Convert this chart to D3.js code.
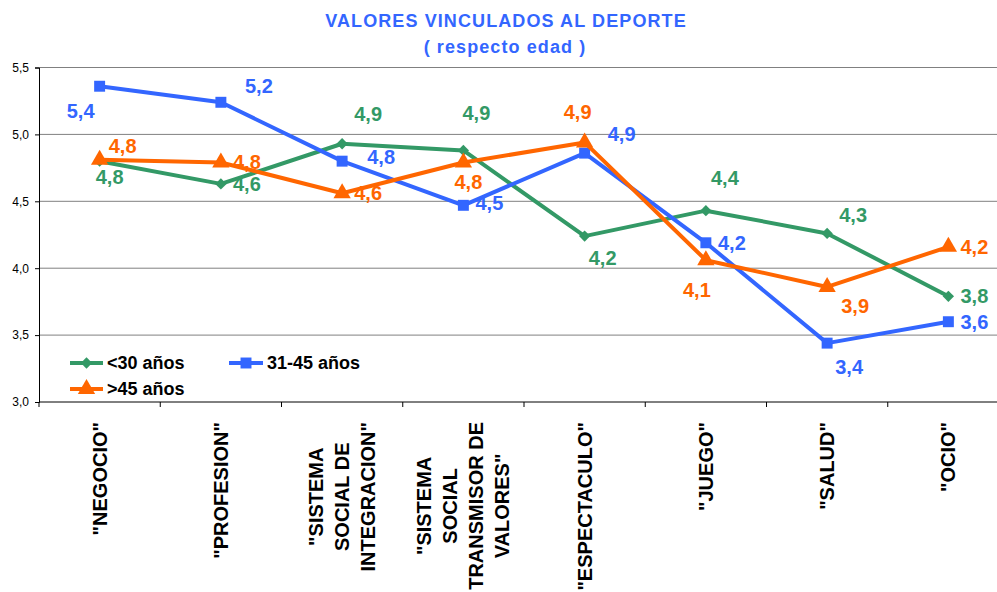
<!DOCTYPE html>
<html>
<head>
<meta charset="utf-8">
<script src="https://cdn.jsdelivr.net/npm/d3@7"></script>
<style>
  html, body { margin: 0; padding: 0; background: #fff; }
  svg { display: block; overflow: hidden; font-family: Arial, "Liberation Sans", sans-serif; }
</style>
</head>
<body>
<svg id="chart" width="997" height="592"></svg>
<script>
// Line chart: "valores vinculados al deporte" by age group.
// Values, one decimal label per point.

const categories = [
    '"NEGOCIO"',
    '"PROFESION"',
    '"SISTEMA\nSOCIAL DE\nINTEGRACION"',
    '"SISTEMA\nSOCIAL\nTRANSMISOR DE\nVALORES"',
    '"ESPECTACULO"',
    '"JUEGO"',
    '"SALUD"',
    '"OCIO"',
];
const seriesNames = ['<30 años', '31-45 años', '>45 años'];
const under30 = [4.80, 4.63, 4.93, 4.88, 4.24, 4.43, 4.26, 3.79];
const from31to45 = [5.36, 5.24, 4.80, 4.47, 4.86, 4.19, 3.44, 3.60];
const over45 = [4.81, 4.79, 4.56, 4.79, 4.94, 4.06, 3.86, 4.16];
const yTicks = [3.0, 3.5, 4.0, 4.5, 5.0, 5.5];

// label nudges (px) so the value labels sit where the original put them
const LABEL_NUDGE = [
    [[10, 16], [26, 0], [26, -30], [13, -37], [18, 22], [19, -33], [26, -18], [26, 0]],
    [[-19, 25], [38, -16], [39, -4], [26, -2], [37, -19], [26, 0], [22, 24], [26, 0]],
    [[23, -14], [26, 0], [26, 0], [5, 20], [-7, -30], [-9, 30], [28, 19], [26, 0]],
];

const COLORS = ['#339966', '#3366ff', '#ff6600'];
// diamond is a square turned 45 degrees, like the spreadsheet marker
const SYMBOLS = [d3.symbolSquare, d3.symbolSquare, d3.symbolTriangle];
const SYMBOL_SIZE = [64, 120, 130];
const SYMBOL_ROT = [45, 0, 0];

const es = d3.formatLocale({ decimal: ',', thousands: '.', grouping: [3], currency: ['', '€'] });
const fmt = es.format('.1f');

const series = [under30, from31to45, over45].map((values, i) => ({
    name: seriesNames[i], values, color: COLORS[i], symbol: SYMBOLS[i],
    size: SYMBOL_SIZE[i], rot: SYMBOL_ROT[i], nudge: LABEL_NUDGE[i],
}));

const svg = d3.select('#chart');
const margin = { left: 39, top: 67.5, bottom: 402 };
// the plot runs a little past the right edge of the picture, as in the original
const plotRight = 1009;

const x = d3.scaleBand().domain(categories).range([margin.left, plotRight]).padding(0);
const y = d3.scaleLinear().domain([3, 5.5]).range([margin.bottom, margin.top]);
const cx = (i) => x(categories[i]) + x.bandwidth() / 2;

// title
const titleStyle = (sel) => sel
    .attr('text-anchor', 'middle')
    .attr('fill', '#3366ff')
    .style('font-size', '18px')
    .style('font-weight', 'bold')
    .style('letter-spacing', '1.1px');
svg.append('text').attr('x', 506).attr('y', 27).call(titleStyle)
    .text('VALORES VINCULADOS AL DEPORTE');
svg.append('text').attr('x', 505).attr('y', 53).call(titleStyle)
    .text('( respecto edad )');

// gridlines
svg.append('g')
    .selectAll('line')
    .data(yTicks.filter((t) => t > 3))
    .join('line')
    .attr('x1', margin.left).attr('x2', plotRight)
    .attr('y1', (d) => y(d)).attr('y2', (d) => y(d))
    .attr('stroke', '#808080')
    .attr('stroke-width', 1);

// y axis
const gy = svg.append('g')
    .attr('transform', `translate(${margin.left},0)`)
    .call(d3.axisLeft(y).tickValues(yTicks).tickFormat(fmt).tickSize(4).tickPadding(6));
gy.select('.domain').attr('stroke', '#000');
gy.selectAll('text').style('font-size', '12px').attr('fill', '#000');

// x axis: ticks at band boundaries
const gx = svg.append('g');
gx.append('line')
    .attr('x1', margin.left).attr('x2', plotRight)
    .attr('y1', margin.bottom).attr('y2', margin.bottom)
    .attr('stroke', '#000');
gx.selectAll('line.tick')
    .data(categories)
    .join('line')
    .attr('class', 'tick')
    .attr('x1', (d) => x(d)).attr('x2', (d) => x(d))
    .attr('y1', margin.bottom).attr('y2', margin.bottom + 5)
    .attr('stroke', '#000');

// category labels, rotated, lines centered, block ending just under the axis
const labelTop = 422;
const lineH = 26;
categories.forEach((cat, i) => {
    const lines = cat.split('\n');
    const g = svg.append('g').attr('transform', `translate(${cx(i)},0) rotate(-90)`);
    const texts = g.selectAll('text')
        .data(lines)
        .join('text')
        .attr('text-anchor', 'middle')
        .attr('dominant-baseline', 'central')
        .attr('y', (d, j) => (j - (lines.length - 1) / 2) * lineH)
        .attr('fill', '#000')
        .style('font-size', '20px')
        .style('font-weight', 'bold')
        .text((d) => d);
    const w = d3.max(texts.nodes(), (n) => n.getComputedTextLength());
    texts.attr('x', -(labelTop + w / 2));
});

// lines and markers
const line = d3.line().x((d, i) => cx(i)).y((d) => y(d));
const gSeries = svg.append('g');
series.forEach((s) => {
    gSeries.append('path')
        .datum(s.values)
        .attr('d', line)
        .attr('fill', 'none')
        .attr('stroke', s.color)
        .attr('stroke-width', 4)
        .attr('stroke-linejoin', 'round');
    gSeries.selectAll(null)
        .data(s.values)
        .join('path')
        .attr('transform', (d, i) => `translate(${cx(i)},${y(d)}) rotate(${s.rot})`)
        .attr('d', d3.symbol(s.symbol, s.size))
        .attr('fill', s.color);
});

// value labels
series.forEach((s) => {
    svg.append('g')
        .selectAll('text')
        .data(s.values)
        .join('text')
        .attr('x', (d, i) => cx(i) + s.nudge[i][0])
        .attr('y', (d, i) => y(d) + s.nudge[i][1])
        .attr('text-anchor', 'middle')
        .attr('dominant-baseline', 'central')
        .attr('fill', s.color)
        .style('font-size', '20px')
        .style('font-weight', 'bold')
        .text((d) => fmt(d));
});

// legend
const legendPos = [[70, 363], [229, 363], [70, 389]];
const legendLineW = [33, 34, 33];
const gLegend = svg.append('g');
series.forEach((s, i) => {
    const [lx, ly] = legendPos[i];
    const lw = legendLineW[i];
    const g = gLegend.append('g').attr('transform', `translate(${lx},${ly})`);
    g.append('line')
        .attr('x1', 0).attr('x2', lw)
        .attr('stroke', s.color).attr('stroke-width', 4);
    g.append('path')
        .attr('transform', `translate(${lw / 2},0) rotate(${s.rot})`)
        .attr('d', d3.symbol(s.symbol, s.size))
        .attr('fill', s.color);
    g.append('text')
        .attr('x', lw + 4)
        .attr('dominant-baseline', 'central')
        .attr('fill', '#000')
        .style('font-size', '18px')
        .style('font-weight', 'bold')
        .text(s.name);
});
</script>
</body>
</html>
